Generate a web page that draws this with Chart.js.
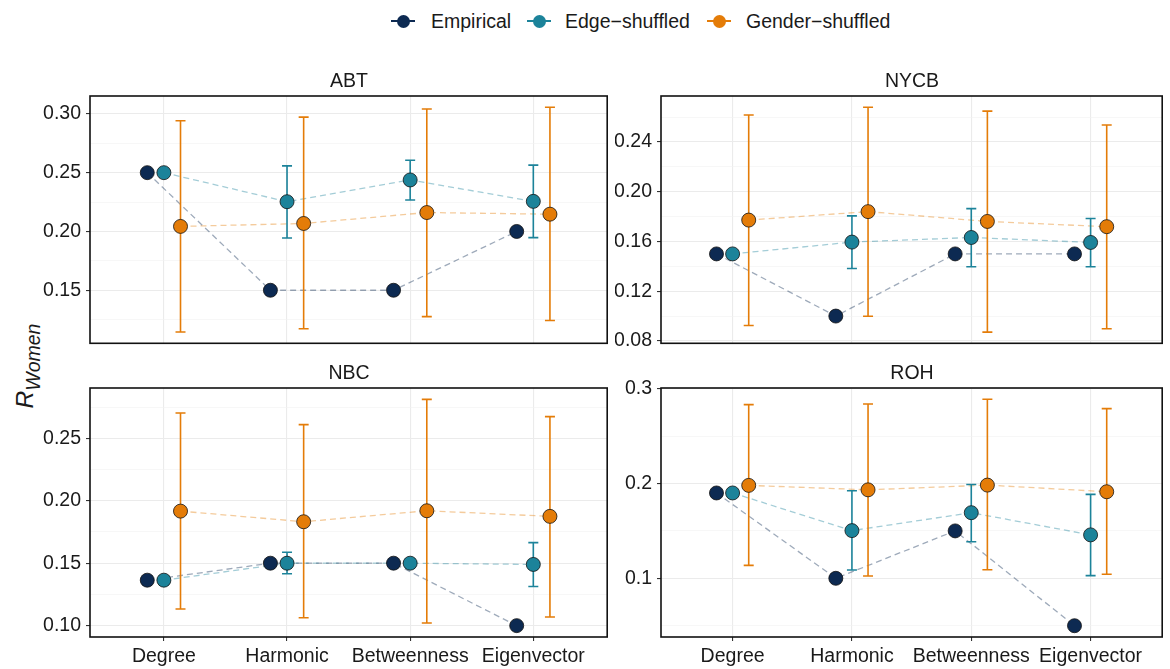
<!DOCTYPE html>
<html>
<head>
<meta charset="utf-8">
<script src="https://cdn.jsdelivr.net/npm/chart.js@4.4.1/dist/chart.umd.min.js"></script>
<style>
  body { margin: 0; width: 1170px; height: 669px; background: #fff; position: relative; overflow: hidden;
         font-family: "Liberation Sans", Arial, sans-serif; color: #1a1a1a; }
  .box { position: absolute; }
  .tit { position: absolute; font-size: 19.5px; transform: translate(-50%, -50%); white-space: nowrap; z-index: 2; }
  .item { position: absolute; top: 11px; height: 20px; line-height: 20px; font-size: 19.5px; white-space: nowrap; }
  .key { position: absolute; left: 0; top: 0; width: 24px; height: 20px; }
  .key::before { content: ""; position: absolute; left: 0; top: 9px; width: 24px; height: 2px; background: var(--c); }
  .key::after { content: ""; position: absolute; left: 5.5px; top: 3.5px; width: 13px; height: 13px; border-radius: 50%; background: var(--c); }
  .item span.txt { position: absolute; left: 40px; top: 0; }
  #ylab { position: absolute; left: 25px; top: 366px; transform: translate(-50%, -50%) rotate(-90deg); white-space: nowrap; }
</style>
</head>
<body>

<div class="item" style="left:391px"><div class="key" style="--c:#0d2a52"></div><span class="txt" style="left:40px">Empirical</span></div>
<div class="item" style="left:527px"><div class="key" style="--c:#1c839a"></div><span class="txt" style="left:38px">Edge−shuffled</span></div>
<div class="item" style="left:707px"><div class="key" style="--c:#e47c08"></div><span class="txt" style="left:39px">Gender−shuffled</span></div>

<div id="ylab"><span style="font-style:italic;font-size:24.5px">R</span><span style="font-style:italic;font-size:19.5px;position:relative;top:7px">Women</span></div>

<div class="tit" style="left:349px;top:80px">ABT</div>
<div class="tit" style="left:912px;top:80px">NYCB</div>
<div class="tit" style="left:349px;top:372px">NBC</div>
<div class="tit" style="left:912px;top:372px">ROH</div>

<div class="box" style="left:0;top:76px;width:615px;height:284px"><canvas id="abt"></canvas></div>
<div class="box" style="left:615px;top:76px;width:555px;height:284px"><canvas id="nycb"></canvas></div>
<div class="box" style="left:0;top:368px;width:615px;height:301px"><canvas id="nbc"></canvas></div>
<div class="box" style="left:615px;top:368px;width:555px;height:301px"><canvas id="roh"></canvas></div>

<script>
const categories = ['Degree', 'Harmonic', 'Betweenness', 'Eigenvector'];
const seriesNames = ['Empirical', 'Edge−shuffled', 'Gender−shuffled'];

// ABT
const abtEmpirical = [0.25, 0.15, 0.15, 0.20];
const abtEdge = [0.25, 0.2253, 0.2438, 0.2256];
const abtEdgeLo = [null, 0.1945, 0.2267, 0.1948];
const abtEdgeHi = [null, 0.2558, 0.2605, 0.2564];
const abtGender = [0.2043, 0.2068, 0.2161, 0.2147];
const abtGenderLo = [0.1145, 0.1173, 0.1276, 0.1243];
const abtGenderHi = [0.2941, 0.2972, 0.3042, 0.3056];
const abtTicks = [0.15, 0.20, 0.25, 0.30];
const abtTickLabels = ['0.15', '0.20', '0.25', '0.30'];
const abtRange = [0.1049, 0.3152];

// NYCB
const nycbEmpirical = [0.15, 0.10, 0.15, 0.15];
const nycbEdge = [0.15, 0.1595, 0.1632, 0.1592];
const nycbEdgeLo = [null, 0.1383, 0.1397, 0.1397];
const nycbEdgeHi = [null, 0.1806, 0.1864, 0.1785];
const nycbGender = [0.1772, 0.1840, 0.1761, 0.1719];
const nycbGenderLo = [0.0924, 0.0998, 0.0871, 0.0898];
const nycbGenderHi = [0.2617, 0.2680, 0.2648, 0.2537];
const nycbTicks = [0.08, 0.12, 0.16, 0.20, 0.24];
const nycbTickLabels = ['0.08', '0.12', '0.16', '0.20', '0.24'];
const nycbRange = [0.0781, 0.2770];

// NBC
const nbcEmpirical = [0.1364, 0.15, 0.15, 0.10];
const nbcEdge = [0.1364, 0.15, 0.15, 0.149];
const nbcEdgeLo = [null, 0.1415, null, 0.1313];
const nbcEdgeHi = [null, 0.1588, null, 0.1665];
const nbcGender = [0.1917, 0.1832, 0.1920, 0.1875];
const nbcGenderLo = [0.1133, 0.1063, 0.1021, 0.1069];
const nbcGenderHi = [0.2703, 0.2610, 0.2812, 0.2674];
const nbcTicks = [0.10, 0.15, 0.20, 0.25];
const nbcTickLabels = ['0.10', '0.15', '0.20', '0.25'];
const nbcRange = [0.0909, 0.2903];

// ROH
const rohEmpirical = [0.19, 0.10, 0.15, 0.05];
const rohEdge = [0.19, 0.1503, 0.1692, 0.1458];
const rohEdgeLo = [null, 0.1087, 0.1385, 0.1028];
const rohEdgeHi = [null, 0.1923, 0.1990, 0.1885];
const rohGender = [0.1980, 0.1933, 0.1983, 0.1913];
const rohGenderLo = [0.1136, 0.1024, 0.1091, 0.1042];
const rohGenderHi = [0.2832, 0.2839, 0.2888, 0.2790];
const rohTicks = [0.1, 0.2, 0.3];
const rohTickLabels = ['0.1', '0.2', '0.3'];
const rohRange = [0.0381, 0.3007];

const colors = ['#0d2a52', '#1c839a', '#e47c08'];
const lineColors = ['rgba(13,42,82,0.4)', 'rgba(28,131,154,0.4)', 'rgba(228,124,8,0.4)'];
const dodge = [-0.135, 0, 0.135];

Chart.defaults.font.family = '"Liberation Sans", Arial, sans-serif';
Chart.defaults.font.size = 19.5;
Chart.defaults.color = '#1a1a1a';

// error bars drawn after the dashed lines, before the points
const panelFrame = {
  id: 'panelFrame',
  afterDatasetDraw(chart, args) {
    if (args.index !== 3) return;
    const ctx = chart.ctx, y = chart.scales.y;
    ctx.save();
    chart.data.datasets.forEach((ds, di) => {
      if (!ds.lo) return;
      const meta = chart.getDatasetMeta(di);
      ds.lo.forEach((lo, i) => {
        if (lo == null) return;
        const x = meta.data[i].x;
        const y1 = y.getPixelForValue(lo), y2 = y.getPixelForValue(ds.hi[i]);
        ctx.strokeStyle = ds.pointBackgroundColor;
        ctx.lineWidth = 1.6;
        ctx.beginPath();
        ctx.moveTo(x, y1); ctx.lineTo(x, y2);
        ctx.moveTo(x - 5, y1); ctx.lineTo(x + 5, y1);
        ctx.moveTo(x - 5, y2); ctx.lineTo(x + 5, y2);
        ctx.stroke();
      });
    });
    ctx.restore();
  },
  afterDraw(chart) {
    const a = chart.chartArea, ctx = chart.ctx;
    ctx.save();
    ctx.strokeStyle = '#111';
    ctx.lineWidth = 1.6;
    ctx.strokeRect(a.left, a.top, a.right - a.left, a.bottom - a.top);
    ctx.restore();
  }
};

function makePanel(id, p, showX, yWidth, padRight) {
  const isMajor = v => p.ticks.some(t => Math.abs(t - v) < 1e-9);
  const step = p.ticks[1] - p.ticks[0];
  const grid = [];
  for (let v = p.ticks[0] - step / 2; v <= p.range[1] + 1e-9; v += step / 2) {
    if (v >= p.range[0]) grid.push(Math.round(v * 10000) / 10000);
  }
  const vals = [p.empirical, p.edge, p.gender];
  const pts = vals.map((arr, s) => arr.map((v, i) => ({ x: i + dodge[s], y: v })));
  const pointSets = pts.map((d, s) => ({
    label: seriesNames[s], data: d, showLine: false, clip: false,
    pointRadius: 7, pointHoverRadius: 7, pointBackgroundColor: colors[s],
    pointBorderColor: '#111', pointBorderWidth: 0.8,
    lo: s === 1 ? p.edgeLo : s === 2 ? p.genderLo : null,
    hi: s === 1 ? p.edgeHi : s === 2 ? p.genderHi : null
  }));
  const lineSets = pts.map((d, s) => ({
    label: seriesNames[s] + ' line', data: d, showLine: true, pointRadius: 0,
    borderColor: lineColors[s], borderWidth: 1.3, borderDash: [6, 4]
  }));

  new Chart(document.getElementById(id), {
    type: 'scatter',
    data: { datasets: [...pointSets, ...lineSets] },
    options: {
      responsive: true,
      maintainAspectRatio: false,
      animation: false,
      events: [],
      layout: { padding: { top: 20, right: padRight, bottom: showX ? 0 : 15, left: 0 } },
      plugins: { legend: { display: false }, tooltip: { enabled: false } },
      scales: {
        x: {
          type: 'linear', min: -0.6, max: 3.6,
          afterBuildTicks: s => { s.ticks = categories.map((c, i) => ({ value: i })); },
          afterFit: s => { s.height = showX ? 32 : 0; },
          border: { display: false },
          grid: { color: '#ebebeb', lineWidth: 1.1, drawTicks: showX, tickLength: 4, tickColor: '#333', tickWidth: 1.1 },
          ticks: { display: showX, autoSkip: false, maxRotation: 0, padding: 4, callback: v => categories[v] }
        },
        y: {
          type: 'linear', min: p.range[0], max: p.range[1],
          afterBuildTicks: s => { s.ticks = grid.map(v => ({ value: v })); },
          afterFit: s => { s.width = yWidth; },
          border: { display: false },
          grid: {
            color: c => isMajor(c.tick.value) ? '#ebebeb' : '#f2f2f2',
            lineWidth: c => isMajor(c.tick.value) ? 1.1 : 0.6,
            tickLength: 4,
            tickColor: c => isMajor(c.tick.value) ? '#333' : 'rgba(0,0,0,0)',
            tickWidth: 1.1
          },
          ticks: {
            autoSkip: false, padding: 5,
            callback: v => { const k = p.ticks.findIndex(t => Math.abs(t - v) < 1e-9); return k >= 0 ? p.tickLabels[k] : ''; }
          }
        }
      }
    },
    plugins: [panelFrame]
  });
}

makePanel('abt', { empirical: abtEmpirical, edge: abtEdge, edgeLo: abtEdgeLo, edgeHi: abtEdgeHi,
  gender: abtGender, genderLo: abtGenderLo, genderHi: abtGenderHi,
  ticks: abtTicks, tickLabels: abtTickLabels, range: abtRange }, false, 90, 6);
makePanel('nycb', { empirical: nycbEmpirical, edge: nycbEdge, edgeLo: nycbEdgeLo, edgeHi: nycbEdgeHi,
  gender: nycbGender, genderLo: nycbGenderLo, genderHi: nycbGenderHi,
  ticks: nycbTicks, tickLabels: nycbTickLabels, range: nycbRange }, false, 46, 3);
makePanel('nbc', { empirical: nbcEmpirical, edge: nbcEdge, edgeLo: nbcEdgeLo, edgeHi: nbcEdgeHi,
  gender: nbcGender, genderLo: nbcGenderLo, genderHi: nbcGenderHi,
  ticks: nbcTicks, tickLabels: nbcTickLabels, range: nbcRange }, true, 90, 6);
makePanel('roh', { empirical: rohEmpirical, edge: rohEdge, edgeLo: rohEdgeLo, edgeHi: rohEdgeHi,
  gender: rohGender, genderLo: rohGenderLo, genderHi: rohGenderHi,
  ticks: rohTicks, tickLabels: rohTickLabels, range: rohRange }, true, 46, 3);
</script>
</body>
</html>
